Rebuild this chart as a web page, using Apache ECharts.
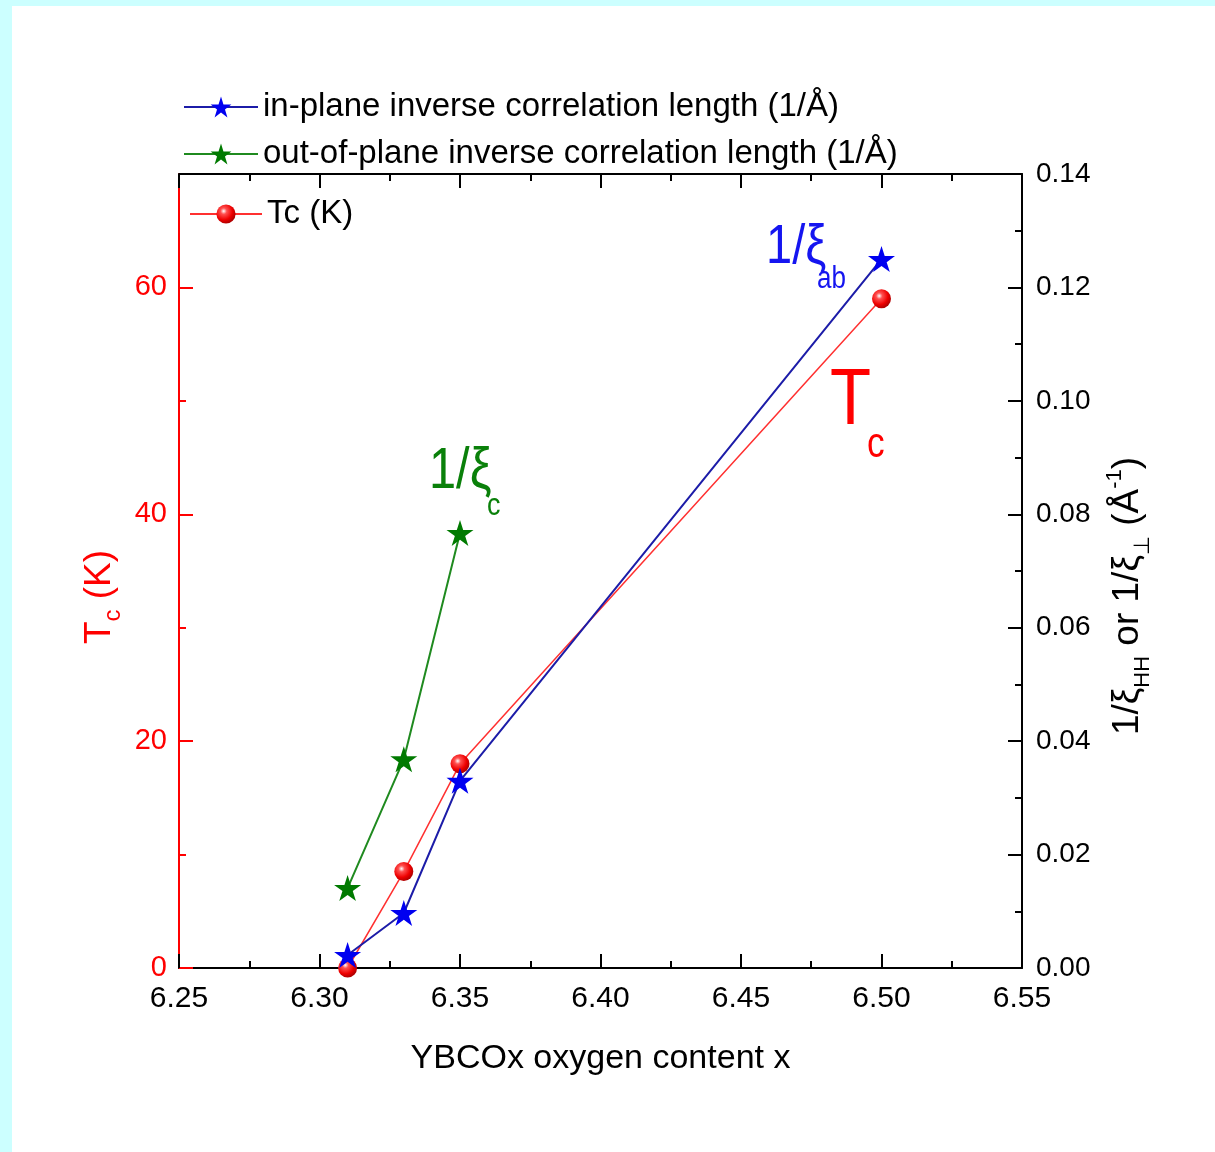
<!DOCTYPE html>
<html>
<head>
<meta charset="utf-8">
<script src="https://cdn.jsdelivr.net/npm/echarts@6/dist/echarts.min.js"></script>
<style>
html,body{margin:0;padding:0;background:#ccffff;}
#chart{width:1215px;height:1152px;}
</style>
</head>
<body>
<div id="chart"></div>
<script>
// ---- data ----
const oxygen = [6.31, 6.33, 6.35, 6.50];
const tcValues = [0, 8.5, 18, 59];
const inPlane = [0.0023, 0.0097, 0.033, 0.125];
const outOxygen = [6.31, 6.33, 6.35];
const outOfPlane = [0.0141, 0.0368, 0.0767];
const tcMajorTicks = [0, 20, 40, 60];
const tcMinorTicks = [10, 30, 50];
const seriesNames = [
  'Tc (K)',
  'in-plane inverse correlation length (1/Å)',
  'out-of-plane inverse correlation length (1/Å)'
];

const FONT_N = '"Liberation Sans Narrow", "Arial Narrow", "Liberation Sans", Arial, sans-serif';
const FONT = '"Liberation Sans", Arial, sans-serif';
const NARROW = 0.84;
const STAR = 'path://M50 0 L61.23 34.55 L97.55 34.55 L68.17 55.9 L79.39 90.45 L50 69.1 L20.61 90.45 L31.83 55.9 L2.45 34.55 L38.77 34.55 Z';
const sphere = {
  type: 'radial', x: 0.38, y: 0.35, r: 0.65,
  colorStops: [
    {offset: 0, color: '#ffffff'},
    {offset: 0.25, color: '#ff5050'},
    {offset: 0.7, color: '#ee0000'},
    {offset: 1, color: '#b00000'}
  ]
};

const chart = echarts.init(document.getElementById('chart'), null, {renderer: 'canvas'});

const xCommon = {
  type: 'value', min: 6.25, max: 6.55, interval: 0.05,
  axisLine: {show: true, onZero: false, lineStyle: {color: '#000', width: 2}},
  axisTick: {show: true, inside: true, length: 14, lineStyle: {color: '#000', width: 2}},
  minorTick: {show: true, splitNumber: 2, length: 7, lineStyle: {color: '#000', width: 2}},
  splitLine: {show: false}
};

const legendText = {fontFamily: FONT_N, fontSize: 33, color: '#000', lineHeight: 40};

const option = {
  animation: false,
  backgroundColor: '#ccffff',
  grid: {left: 179, right: 193, top: 174, bottom: 184, containLabel: false, outerBoundsMode: 'none'},
  legend: [
    {
      data: [seriesNames[1], seriesNames[2]],
      orient: 'vertical', left: 178, top: 82,
      itemWidth: 74, itemHeight: 26, itemGap: 7,
      selectedMode: false,
      textStyle: legendText
    },
    {
      data: [seriesNames[0]],
      orient: 'vertical', left: 184, top: 189,
      itemWidth: 72, itemHeight: 24,
      selectedMode: false,
      textStyle: legendText
    }
  ],
  xAxis: [
    Object.assign({}, xCommon, {
      position: 'bottom',
      axisLabel: {show: true, fontFamily: FONT_N, fontSize: 30, color: '#000', margin: 16,
        formatter: v => v.toFixed(2)},
      name: 'YBCOx oxygen content x', nameLocation: 'middle', nameGap: 74,
      nameTextStyle: {fontFamily: FONT_N, fontSize: 34, color: '#000'}
    }),
    Object.assign({}, xCommon, {
      position: 'top',
      axisLabel: {show: false}
    })
  ],
  yAxis: [
    {
      type: 'value', position: 'left', min: 0, max: 70, interval: 10,
      axisLine: {show: true, onZero: false, lineStyle: {color: '#ff0000', width: 2}},
      axisTick: {show: true, inside: true, length: 14, customValues: tcMajorTicks,
        lineStyle: {color: '#ff0000', width: 2}},
      axisLabel: {show: true, customValues: tcMajorTicks, fontFamily: FONT, fontSize: 29,
        color: '#ff0000', margin: 12},
      splitLine: {show: false}
    },
    {
      type: 'value', position: 'right', min: 0, max: 0.14, interval: 0.02,
      axisLine: {show: true, onZero: false, lineStyle: {color: '#000', width: 2}},
      axisTick: {show: true, inside: true, length: 14, lineStyle: {color: '#000', width: 2}},
      minorTick: {show: true, splitNumber: 2, length: 7, lineStyle: {color: '#000', width: 2}},
      axisLabel: {show: true, fontFamily: FONT, fontSize: 28, color: '#000', margin: 14,
        formatter: v => v.toFixed(2)},
      splitLine: {show: false}
    },
    {
      type: 'value', position: 'left', min: 0, max: 70, interval: 10,
      axisLine: {show: false},
      axisTick: {show: true, inside: true, length: 7, customValues: tcMinorTicks,
        lineStyle: {color: '#ff0000', width: 2}},
      axisLabel: {show: false},
      splitLine: {show: false}
    }
  ],
  series: [
    {
      name: seriesNames[0], type: 'line', xAxisIndex: 0, yAxisIndex: 0,
      data: oxygen.map((x, i) => [x, tcValues[i]]),
      symbol: 'circle', symbolSize: 19, clip: false,
      lineStyle: {color: '#ff3030', width: 1.5},
      itemStyle: {color: sphere}
    },
    {
      name: seriesNames[1], type: 'line', xAxisIndex: 0, yAxisIndex: 1,
      data: oxygen.map((x, i) => [x, inPlane[i]]),
      symbol: STAR, symbolSize: [27, 26], clip: false,
      lineStyle: {color: '#1c1ca8', width: 2},
      itemStyle: {color: '#0000f0'}
    },
    {
      name: seriesNames[2], type: 'line', xAxisIndex: 0, yAxisIndex: 1,
      data: outOxygen.map((x, i) => [x, outOfPlane[i]]),
      symbol: STAR, symbolSize: [27, 26], clip: false,
      lineStyle: {color: '#1f8a1f', width: 2},
      itemStyle: {color: '#007a00'}
    }
  ],
  graphic: {
    elements: [
      {type: 'rect', silent: true, z: -10, shape: {x: 12, y: 6, width: 1215, height: 1152}, style: {fill: '#ffffff'}},
      // left axis title  T_c (K)
      {type: 'text', silent: true, x: 100, y: 597, rotation: Math.PI / 2,
        style: {text: '{m|T}{s|c}{m| (K)}', align: 'center', verticalAlign: 'middle', fill: '#ff0000',
          rich: {
            m: {fontFamily: FONT, fontSize: 37, lineHeight: 42, fill: '#ff0000'},
            s: {fontFamily: FONT, fontSize: 24, lineHeight: 24, padding: [26, 0, 0, 0], fill: '#ff0000'}
          }}},
      // right axis title
      {type: 'text', silent: true, x: 1128, y: 596, rotation: Math.PI / 2,
        style: {text: '{m|1/ξ}{s|HH}{m| or 1/ξ}{s|⊥}{m| (Å}{p|-1}{m|)}', align: 'center', verticalAlign: 'middle', fill: '#000',
          rich: {
            m: {fontFamily: FONT, fontSize: 37, lineHeight: 44, fill: '#000'},
            s: {fontFamily: FONT, fontSize: 22, lineHeight: 22, padding: [30, 0, 0, 0], fill: '#000'},
            p: {fontFamily: FONT, fontSize: 22, lineHeight: 22, padding: [0, 0, 26, 0], fill: '#000'}
          }}},
      // annotation 1/xi_ab
      {type: 'text', silent: true, x: 766, y: 248, scaleX: NARROW,
        style: {text: '1/ξ', fontFamily: FONT_N, fontSize: 56, fill: '#1515f0', align: 'left', verticalAlign: 'middle'}},
      {type: 'text', silent: true, x: 817, y: 279, scaleX: NARROW,
        style: {text: 'ab', fontFamily: FONT_N, fontSize: 31, fill: '#1515f0', align: 'left', verticalAlign: 'middle'}},
      // annotation 1/xi_c
      {type: 'text', silent: true, x: 429, y: 472, scaleX: NARROW,
        style: {text: '1/ξ', fontFamily: FONT_N, fontSize: 58, fill: '#0a800a', align: 'left', verticalAlign: 'middle'}},
      {type: 'text', silent: true, x: 487, y: 506, scaleX: NARROW,
        style: {text: 'c', fontFamily: FONT_N, fontSize: 32, fill: '#0a800a', align: 'left', verticalAlign: 'middle'}},
      // annotation T_c
      {type: 'text', silent: true, x: 830, y: 402, scaleX: NARROW,
        style: {text: 'T', fontFamily: FONT_N, fontSize: 80, fill: '#ff0000', align: 'left', verticalAlign: 'middle'}},
      {type: 'text', silent: true, x: 867, y: 445, scaleX: NARROW,
        style: {text: 'c', fontFamily: FONT_N, fontSize: 42, fill: '#ff0000', align: 'left', verticalAlign: 'middle'}}
    ]
  }
};
chart.setOption(option);
</script>
</body>
</html>
